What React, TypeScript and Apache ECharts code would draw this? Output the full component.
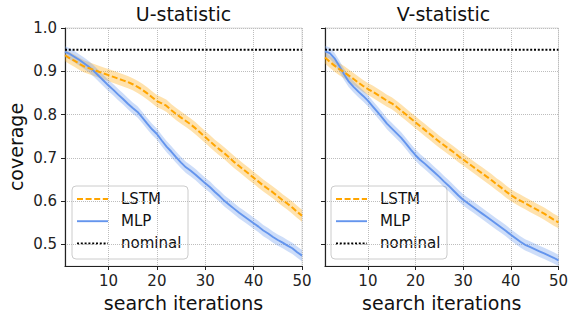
import React, { useEffect, useRef } from 'react';
import * as echarts from 'echarts';

const iterations = [1, 2, 3, 4, 5, 6, 7, 8, 9, 10, 11, 12, 13, 14, 15, 16, 17, 18, 19, 20, 21, 22, 23, 24, 25, 26, 27, 28, 29, 30, 31, 32, 33, 34, 35, 36, 37, 38, 39, 40, 41, 42, 43, 44, 45, 46, 47, 48, 49, 50];

const uLstm = [0.937, 0.930, 0.924, 0.917, 0.911, 0.907, 0.903, 0.899, 0.895, 0.891, 0.887, 0.883, 0.879, 0.875, 0.870, 0.864, 0.857, 0.849, 0.840, 0.831, 0.826, 0.820, 0.810, 0.801, 0.793, 0.785, 0.777, 0.768, 0.758, 0.748, 0.738, 0.728, 0.719, 0.710, 0.700, 0.690, 0.681, 0.672, 0.663, 0.654, 0.645, 0.636, 0.628, 0.620, 0.611, 0.602, 0.594, 0.585, 0.575, 0.566];
const uMlp = [0.945, 0.940, 0.933, 0.926, 0.918, 0.910, 0.900, 0.889, 0.878, 0.867, 0.857, 0.846, 0.836, 0.825, 0.815, 0.806, 0.793, 0.779, 0.766, 0.755, 0.740, 0.726, 0.714, 0.701, 0.689, 0.678, 0.670, 0.661, 0.651, 0.641, 0.632, 0.621, 0.611, 0.600, 0.591, 0.582, 0.573, 0.565, 0.557, 0.549, 0.541, 0.532, 0.525, 0.517, 0.510, 0.504, 0.497, 0.491, 0.482, 0.474];
const vLstm = [0.932, 0.922, 0.913, 0.905, 0.898, 0.890, 0.882, 0.874, 0.866, 0.859, 0.853, 0.846, 0.839, 0.832, 0.826, 0.818, 0.809, 0.800, 0.791, 0.782, 0.773, 0.764, 0.755, 0.746, 0.737, 0.729, 0.721, 0.713, 0.704, 0.696, 0.688, 0.680, 0.672, 0.664, 0.656, 0.648, 0.639, 0.631, 0.622, 0.614, 0.607, 0.601, 0.595, 0.589, 0.583, 0.577, 0.571, 0.564, 0.557, 0.551];
const vMlp = [0.946, 0.942, 0.930, 0.912, 0.893, 0.876, 0.864, 0.853, 0.843, 0.832, 0.819, 0.806, 0.793, 0.779, 0.768, 0.757, 0.746, 0.733, 0.719, 0.706, 0.695, 0.686, 0.676, 0.666, 0.656, 0.645, 0.635, 0.624, 0.613, 0.603, 0.595, 0.587, 0.579, 0.571, 0.563, 0.555, 0.547, 0.539, 0.531, 0.522, 0.514, 0.506, 0.499, 0.494, 0.489, 0.484, 0.479, 0.474, 0.469, 0.463];

const nominalLevel = 0.95;
const lstmHalfWidth = 0.014;
const mlpHalfWidth = 0.013;

const panelTitles = ['U-statistic', 'V-statistic'];
const lstmByPanel = [uLstm, vLstm];
const mlpByPanel = [uMlp, vMlp];
const xTicks = [10, 20, 30, 40, 50];
const yTicks = [0.5, 0.6, 0.7, 0.8, 0.9, 1.0];
const legendNames = ['LSTM', 'MLP', 'nominal'];

const FONT = 'DejaVu Sans';
const LSTM_COLOR = '#FFA500';
const MLP_COLOR = '#6495ED';
const LSTM_DASH = [6, 2.6];
const NOMINAL_DASH = [2, 1.8];

function pairs(vals: number[]) {
  return iterations.map((x, i) => [x, vals[i]]);
}

function bandSeries(gi: number, vals: number[], hw: number, color: string) {
  return {
    type: 'custom', xAxisIndex: gi, yAxisIndex: gi, silent: true, clip: true,
    data: pairs(vals),
    renderItem: (params: any, api: any) => {
      if (params.dataIndex !== 0) return null;
      const upper = iterations.map((x, i) => api.coord([x, vals[i] + hw]));
      const lower = iterations.map((x, i) => api.coord([x, vals[i] - hw])).reverse();
      return {
        type: 'polygon',
        shape: { points: [...upper, ...lower] },
        style: { fill: color, opacity: 0.32 },
      };
    },
  };
}

export default function App() {
  const ref = useRef<HTMLDivElement>(null);
  useEffect(() => {
    if (!ref.current) return;
    const chart = echarts.init(ref.current, undefined, { renderer: 'svg' });
    const gridLefts = [65, 325];
    const series: any[] = [];
    [0, 1].forEach((gi) => {
      series.push(bandSeries(gi, lstmByPanel[gi], lstmHalfWidth, LSTM_COLOR));
      series.push(bandSeries(gi, mlpByPanel[gi], mlpHalfWidth, MLP_COLOR));
      series.push({
        type: 'line', name: 'nominal', xAxisIndex: gi, yAxisIndex: gi, symbol: 'none',
        lineStyle: { color: '#000', width: 2, type: NOMINAL_DASH },
        data: [[iterations[0], nominalLevel], [iterations[iterations.length - 1], nominalLevel]],
      });
      series.push({
        type: 'line', name: 'MLP', xAxisIndex: gi, yAxisIndex: gi, symbol: 'none',
        lineStyle: { color: MLP_COLOR, width: 1.9 },
        data: pairs(mlpByPanel[gi]),
      });
      series.push({
        type: 'line', name: 'LSTM', xAxisIndex: gi, yAxisIndex: gi, symbol: 'none',
        lineStyle: { color: LSTM_COLOR, width: 2, type: LSTM_DASH },
        data: pairs(lstmByPanel[gi]),
      });
    });

    const legendStyles = [
      { stroke: LSTM_COLOR, lineWidth: 2, lineDash: LSTM_DASH },
      { stroke: MLP_COLOR, lineWidth: 1.9 },
      { stroke: '#000', lineWidth: 2, lineDash: NOMINAL_DASH },
    ];
    const legendLefts = [72, 331];
    const legendGraphics = legendLefts.map((lx) => ({
      type: 'group', x: lx, y: 186, z: 100,
      children: [
        {
          type: 'rect', shape: { x: 0, y: 0, width: 116, height: 73, r: 4 },
          style: { fill: 'rgba(255,255,255,0.8)', stroke: '#cccccc', lineWidth: 1 },
        },
        ...legendNames.flatMap((name, k) => [
          {
            type: 'line', shape: { x1: 5, y1: 13 + k * 22.2, x2: 36, y2: 13 + k * 22.2 },
            style: { ...legendStyles[k], fill: null },
          },
          {
            type: 'text', x: 49, y: 13 + k * 22.2,
            style: { text: name, fontSize: 15, fontFamily: FONT, fill: '#111', verticalAlign: 'middle', align: 'left' },
          },
        ]),
      ],
    }));

    const option: any = {
      animation: false,
      textStyle: { fontFamily: FONT },
      grid: gridLefts.map((l) => ({
        left: l, top: 28, width: 237, height: 238, show: true,
        borderColor: '#dcdcdc', borderWidth: 1, backgroundColor: 'rgba(0,0,0,0)',
      })),
      xAxis: [0, 1].map((gi) => ({
        type: 'value', gridIndex: gi, min: 1, max: 50,
        name: 'search iterations', nameLocation: 'middle', nameGap: 27,
        nameTextStyle: { fontSize: 19, fontFamily: FONT, color: '#111' },
        axisLine: { onZero: false, lineStyle: { color: '#222', width: 1.2 } },
        axisTick: { show: true, length: 4, customValues: xTicks, lineStyle: { color: '#222' } },
        axisLabel: { customValues: xTicks, fontSize: 15, fontFamily: FONT, color: '#222', margin: 7 },
        splitLine: { show: true, lineStyle: { type: 'dotted', color: '#bdbdbd' } },
      })),
      yAxis: [0, 1].map((gi) => ({
        type: 'value', gridIndex: gi, min: 0.45, max: 1.0,
        axisLine: { show: true, onZero: false, lineStyle: { color: '#222', width: 1.2 } },
        axisTick: { show: true, length: 4, customValues: yTicks, lineStyle: { color: '#222' } },
        axisLabel: {
          show: gi === 0, customValues: yTicks, fontSize: 15, fontFamily: FONT, color: '#222', margin: 8,
          formatter: (v: number) => v.toFixed(1),
        },
        splitLine: { show: true, lineStyle: { type: 'dotted', color: '#bdbdbd' } },
      })),
      graphic: [
        ...panelTitles.map((t, gi) => ({
          type: 'text', x: gridLefts[gi] + 118.5, y: 14,
          style: { text: t, fontSize: 19, fontFamily: FONT, fill: '#111', align: 'center', verticalAlign: 'middle' },
        })),
        {
          type: 'text', x: 16, y: 147, rotation: Math.PI / 2,
          style: { text: 'coverage', fontSize: 19, fontFamily: FONT, fill: '#111', align: 'center', verticalAlign: 'middle' },
        },
        ...legendGraphics,
      ],
      series,
    };
    chart.setOption(option);
    return () => chart.dispose();
  }, []);
  return <div ref={ref} style={{ position: 'fixed', left: 0, top: 0, width: 571, height: 318, background: '#fff' }} />;
}
